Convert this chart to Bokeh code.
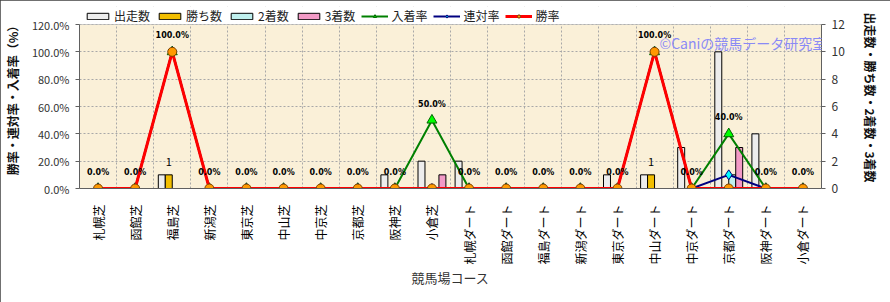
import math
from bokeh.plotting import figure
from bokeh.models import (ColumnDataSource, FactorRange, Range1d, LinearAxis, FixedTicker,
                          PrintfTickFormatter, Legend, LegendItem, LabelSet, Label, BoxAnnotation,
                          InlineStyleSheet)
from bokeh.transform import dodge
from bokeh.embed import file_html
from bokeh.resources import INLINE
from bokeh.core.properties import value

courses = ["札幌芝", "函館芝", "福島芝", "新潟芝", "東京芝", "中山芝", "中京芝", "京都芝", "阪神芝", "小倉芝",
           "札幌ダート", "函館ダート", "福島ダート", "新潟ダート", "東京ダート", "中山ダート", "中京ダート",
           "京都ダート", "阪神ダート", "小倉ダート"]
starts = [0, 0, 1, 0, 0, 0, 0, 0, 1, 2, 2, 0, 0, 0, 1, 1, 3, 10, 4, 0]
wins = [0, 0, 1, 0, 0, 0, 0, 0, 0, 0, 0, 0, 0, 0, 0, 1, 0, 0, 0, 0]
seconds = [0, 0, 0, 0, 0, 0, 0, 0, 0, 0, 0, 0, 0, 0, 0, 0, 0, 1, 0, 0]
thirds = [0, 0, 0, 0, 0, 0, 0, 0, 0, 1, 0, 0, 0, 0, 0, 0, 0, 3, 0, 0]
place_rate = [0, 0, 100, 0, 0, 0, 0, 0, 0, 50, 0, 0, 0, 0, 0, 100, 0, 40, 0, 0]
quinella_rate = [0, 0, 100, 0, 0, 0, 0, 0, 0, 0, 0, 0, 0, 0, 0, 100, 0, 10, 0, 0]
win_rate = [0, 0, 100, 0, 0, 0, 0, 0, 0, 0, 0, 0, 0, 0, 0, 100, 0, 0, 0, 0]
left_ticks = [0, 20, 40, 60, 80, 100, 120]
right_ticks = [0, 2, 4, 6, 8, 10, 12]

JP = "Noto Sans CJK JP"

src = ColumnDataSource(dict(
    course=courses, starts=starts, wins=wins, seconds=seconds, thirds=thirds,
    place=place_rate, quin=quinella_rate, win=win_rate,
    place_lbl=[f"{v:.1f}%" for v in place_rate],
))
win_src = ColumnDataSource(dict(
    course=[c for c, w in zip(courses, wins) if w > 0],
    wins=[w for w in wins if w > 0],
    lbl=[str(w) for w in wins if w > 0],
))

# The frame reaches up to y=6 so that the legend (drawn inside the frame) is not clipped;
# the visible plot area (0..120 %) occupies the lower 164 px of the 182 px frame.
FRAME_TOP, FRAME_H, AREA_H = 6, 182, 164
y_top = left_ticks[-1] * FRAME_H / AREA_H
y2_top = right_ticks[-1] * FRAME_H / AREA_H

p = figure(x_range=FactorRange(factors=courses, range_padding=0, factor_padding=0),
           y_range=Range1d(0, y_top), width=890, height=302,
           output_backend="svg", toolbar_location=None,
           min_border_left=77, min_border_right=69, min_border_top=FRAME_TOP, min_border_bottom=114)
p.stylesheets = [InlineStyleSheet(css=":host { outline: 2px solid #404040; outline-offset: -2px; }")]
p.extra_y_ranges = {"cnt": Range1d(0, y2_top)}

p.background_fill_color = "white"
p.border_fill_color = "white"
p.outline_line_color = None

# plot-area background (0..120 %)
p.add_layout(BoxAnnotation(bottom=0, top=left_ticks[-1], fill_color="#FAF0D8", fill_alpha=1,
                           line_color=None, level="image"))

# grids
p.xgrid.ticker = FixedTicker(ticks=list(range(1, len(courses))))
p.xgrid.grid_line_color = "#A8A8A8"
p.xgrid.grid_line_dash = "2 2"
p.ygrid.ticker = FixedTicker(ticks=left_ticks)
p.ygrid.grid_line_color = "#A8A8A8"
p.ygrid.grid_line_dash = "2 2"

# white cover above the plot area (hides grid lines there) and the plot-area border
p.add_layout(BoxAnnotation(bottom=left_ticks[-1], fill_color="white", fill_alpha=1,
                           line_color=None, level="underlay"))
p.add_layout(BoxAnnotation(bottom=0, top=left_ticks[-1], fill_alpha=0,
                           line_color="#606060", line_width=1, level="underlay"))

# left axis
yax = p.yaxis[0]
yax.ticker = FixedTicker(ticks=left_ticks)
yax.bounds = (left_ticks[0], left_ticks[-1])
yax.formatter = PrintfTickFormatter(format="%.1f%%")
yax.major_label_text_font = JP
yax.major_label_text_font_size = "11px"
yax.major_label_text_color = "#333333"
yax.axis_line_color = "#606060"
yax.major_tick_line_color = "#606060"
yax.major_tick_out = 4
yax.major_tick_in = 0
yax.minor_tick_line_color = None
yax.major_label_standoff = 6
yax.axis_label = "勝率・連対率・入着率（%）"
yax.axis_label_text_font = JP
yax.axis_label_text_font_size = "12px"
yax.axis_label_text_font_style = "bold"
yax.axis_label_text_color = "#111111"
yax.axis_label_standoff = 8

# right axis
rax = LinearAxis(y_range_name="cnt", ticker=FixedTicker(ticks=right_ticks))
rax.bounds = (right_ticks[0], right_ticks[-1])
rax.major_label_text_font = JP
rax.major_label_text_font_size = "12px"
rax.major_label_text_color = "#333333"
rax.axis_line_color = "#606060"
rax.major_tick_line_color = "#606060"
rax.major_tick_out = 4
rax.major_tick_in = 0
rax.minor_tick_line_color = None
rax.major_label_standoff = 6
rax.axis_label = "出走数・勝ち数・2着数・3着数"
rax.axis_label_text_font = JP
rax.axis_label_text_font_size = "12px"
rax.axis_label_text_font_style = "bold"
rax.axis_label_text_color = "#111111"
rax.axis_label_standoff = 14
p.add_layout(rax, "right")

# x axis
xax = p.xaxis[0]
xax.major_label_orientation = math.pi / 2
xax.major_label_text_font = JP
xax.major_label_text_font_size = "12px"
xax.major_label_text_color = "#000000"
xax.major_label_standoff = 10
xax.major_tick_line_color = None
xax.axis_line_color = "#606060"
xax.axis_label = "競馬場コース"
xax.axis_label_text_font = JP
xax.axis_label_text_font_size = "13px"
xax.axis_label_text_font_style = "normal"
xax.axis_label_text_color = "#333333"
xax.axis_label_standoff = 0

# bars (right axis)
bw = 0.188
b1 = p.vbar(x=dodge("course", -0.282, range=p.x_range), top="starts", width=bw, source=src,
            y_range_name="cnt", fill_color="#EDEDED", line_color="black", line_width=1)
b2 = p.vbar(x=dodge("course", -0.094, range=p.x_range), top="wins", width=bw, source=src,
            y_range_name="cnt", fill_color="#F2BE00", line_color="black", line_width=1)
b3 = p.vbar(x=dodge("course", 0.094, range=p.x_range), top="seconds", width=bw, source=src,
            y_range_name="cnt", fill_color="#BFF0EE", line_color="black", line_width=1)
b4 = p.vbar(x=dodge("course", 0.282, range=p.x_range), top="thirds", width=bw, source=src,
            y_range_name="cnt", fill_color="#F29AC6", line_color="black", line_width=1)

# lines (left axis)
l1 = p.line(x="course", y="place", source=src, line_color="#008000", line_width=2)
m1 = p.scatter(x="course", y="place", source=src, marker="triangle", size=10,
               fill_color="#00FF00", line_color="#006400")
l2 = p.line(x="course", y="quin", source=src, line_color="#000080", line_width=2)
m2 = p.scatter(x="course", y="quin", source=src, marker="diamond", size=10,
               fill_color="#00FFFF", line_color="#000080")
l3 = p.line(x="course", y="win", source=src, line_color="#FF0000", line_width=3)
m3 = p.scatter(x="course", y="win", source=src, marker="circle", size=9,
               fill_color="#FF9900", line_color="#7A4000")

# data labels
p.add_layout(LabelSet(x="course", y="place", text="place_lbl", source=src, y_offset=16,
                      text_align="center", text_baseline="middle",
                      text_font=value("DejaVu Sans"), text_font_size="8px",
                      text_font_style="bold", text_color="black"))
p.add_layout(LabelSet(x=dodge("course", -0.094, range=p.x_range), y="wins", text="lbl",
                      source=win_src, y_range_name="cnt", y_offset=13,
                      text_align="center", text_baseline="middle",
                      text_font=value(JP), text_font_size="11px", text_color="black"))

# legend (inside the tall frame, above the plot area)
legend = Legend(items=[
    LegendItem(label="出走数", renderers=[b1]),
    LegendItem(label="勝ち数", renderers=[b2]),
    LegendItem(label="2着数", renderers=[b3]),
    LegendItem(label="3着数", renderers=[b4]),
    LegendItem(label="入着率", renderers=[l1, m1]),
    LegendItem(label="連対率", renderers=[l2, m2]),
    LegendItem(label="勝率", renderers=[l3, m3]),
], orientation="horizontal", location=(5, 164))
legend.background_fill_alpha = 0
legend.border_line_color = None
legend.padding = 0
legend.margin = 0
legend.spacing = 6
legend.glyph_width = 27
legend.glyph_height = 8
legend.label_standoff = 3
legend.label_text_font = JP
legend.label_text_font_size = "12px"
legend.label_text_color = "#222222"
legend.label_height = 12
p.add_layout(legend, "center")

# watermark
p.add_layout(Label(x=580, y=146, x_units="screen", y_units="screen",
                   text="©Caniの競馬データ研究室", text_align="left", text_baseline="middle",
                   text_font=JP, text_font_size="14px", text_color="#8A8AF5"))

open("out.html", "w").write(file_html(p, INLINE))
